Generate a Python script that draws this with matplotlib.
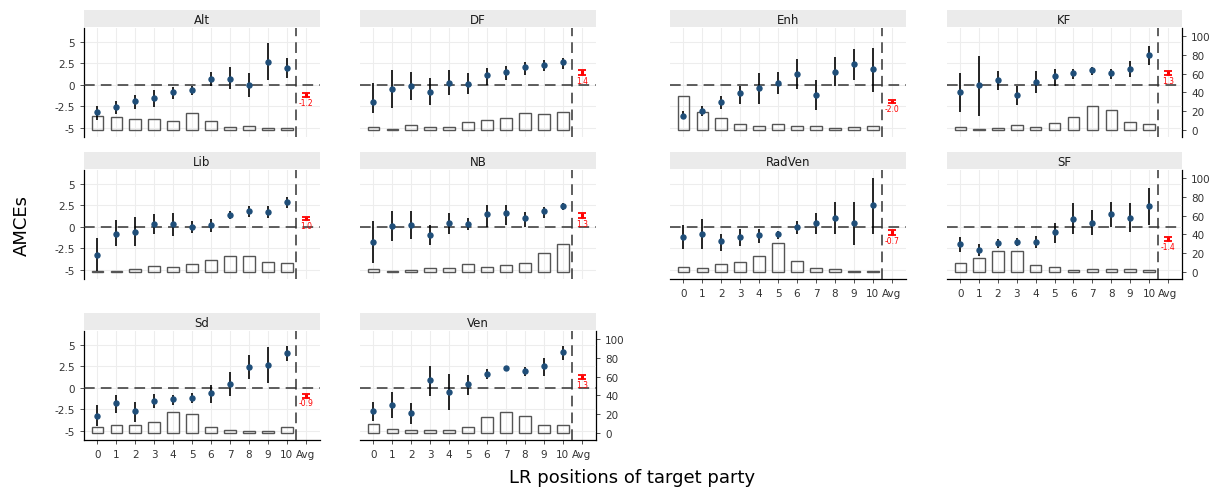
import numpy as np
import matplotlib
matplotlib.use("Agg")
import matplotlib.pyplot as plt

# LR positions 0..10, then the average
positions = list(range(11))
tick_labels = [str(i) for i in positions] + ["Avg"]

# AMCE estimates, CI lower, CI upper, share of respondents (%)
alt_est = [-3.2, -2.65, -1.85, -1.5, -0.85, -0.6, 0.7, 0.7, -0.08, 2.65, 1.95]
alt_lo = [-4.1, -3.4, -2.8, -2.6, -1.65, -1.2, -0.15, -0.55, -1.45, 0.5, 0.8]
alt_hi = [-2.5, -1.95, -1.2, -0.65, -0.3, -0.15, 1.5, 2.0, 1.3, 4.85, 3.05]
alt_pct = [15.2, 13.5, 11.3, 11.7, 9.9, 18.4, 9.2, 3.2, 4.3, 2.1, 1.8]

df_est = [-2.0, -0.45, -0.15, -0.8, 0.25, 0.1, 1.1, 1.5, 2.0, 2.25, 2.65]
df_lo = [-3.3, -2.7, -1.75, -2.4, -1.25, -1.05, 0.0, 0.5, 1.15, 1.55, 1.85]
df_hi = [0.2, 1.7, 1.5, 0.8, 1.7, 1.3, 1.95, 2.2, 2.65, 2.85, 3.15]
df_pct = [3.2, 0.8, 5.3, 3.2, 3.5, 8.2, 10.3, 12.4, 17.7, 17.4, 19.5]

enh_est = [-3.6, -3.1, -2.0, -0.95, -0.4, 0.25, 1.2, -1.25, 1.5, 2.4, 1.8]
enh_lo = [-4.05, -3.65, -2.8, -2.2, -2.2, -1.05, -0.55, -2.9, -0.15, 0.5, -0.8]
enh_hi = [-3.1, -2.5, -1.3, -0.15, 1.3, 1.5, 2.95, 0.5, 3.25, 4.1, 4.3]
enh_pct = [36.0, 19.5, 12.4, 6.0, 4.3, 6.7, 4.6, 3.9, 2.5, 2.8, 4.3]

kf_est = [-0.9, -0.08, 0.55, -1.25, 0.3, 1.0, 1.3, 1.65, 1.3, 1.85, 3.4]
kf_lo = [-3.2, -3.6, -0.65, -2.35, -0.95, -0.15, 0.7, 1.15, 0.7, 0.9, 2.25]
kf_hi = [1.4, 3.35, 1.6, -0.15, 1.55, 1.8, 1.85, 2.05, 1.8, 2.7, 4.5]
kf_pct = [2.8, 0.7, 2.5, 5.7, 3.5, 7.1, 13.8, 25.2, 20.9, 8.5, 6.4]

lib_est = [-3.35, -0.8, -0.6, 0.3, 0.27, 0.0, 0.15, 1.35, 1.8, 1.75, 2.85]
lib_lo = [-5.2, -2.25, -2.3, -0.9, -1.1, -0.7, -0.6, 0.85, 1.15, 0.95, 2.2]
lib_hi = [-1.35, 0.8, 1.15, 1.45, 1.6, 0.65, 0.85, 1.8, 2.4, 2.4, 3.5]
lib_pct = [1.1, 1.4, 3.5, 6.4, 5.7, 8.9, 12.8, 17.4, 16.7, 11.0, 9.6]

nb_est = [-1.8, 0.08, 0.25, -0.95, 0.45, 0.27, 1.5, 1.6, 0.95, 1.8, 2.4]
nb_lo = [-4.2, -1.65, -1.4, -2.15, -0.9, -0.4, 0.0, 0.15, 0.0, 1.05, 1.95]
nb_hi = [0.65, 1.8, 1.8, 0.15, 1.6, 0.95, 2.5, 2.5, 1.7, 2.3, 2.7]
nb_pct = [2.8, 1.4, 2.5, 3.9, 4.3, 8.9, 5.7, 7.4, 9.9, 20.6, 29.8]

radven_est = [-1.15, -0.8, -1.65, -1.15, -0.95, -0.9, -0.05, 0.4, 1.05, 0.4, 2.5]
radven_lo = [-2.55, -2.55, -2.8, -2.25, -1.85, -1.4, -0.8, -0.8, -0.8, -2.15, -0.8]
radven_hi = [0.25, 0.85, -0.8, -0.3, -0.3, -0.5, 0.65, 1.55, 2.85, 2.85, 5.7]
radven_pct = [5.7, 3.9, 8.5, 10.3, 17.0, 30.5, 11.7, 3.9, 2.8, 1.1, 1.1]

sf_est = [-2.05, -2.75, -1.95, -1.8, -1.75, -0.6, 0.85, 0.45, 1.45, 1.05, 2.4]
sf_lo = [-3.0, -3.4, -2.45, -2.3, -2.45, -1.85, -0.9, -1.0, 0.0, -0.6, 0.25]
sf_hi = [-1.15, -2.05, -1.45, -1.35, -1.1, 0.45, 2.7, 1.9, 2.85, 2.8, 4.45]
sf_pct = [10.0, 14.6, 22.8, 22.0, 7.8, 5.0, 2.1, 3.2, 3.6, 3.2, 2.5]

sd_est = [-3.25, -1.8, -2.75, -1.5, -1.35, -1.15, -0.65, 0.45, 2.45, 2.65, 4.05]
sd_lo = [-4.5, -2.95, -4.0, -2.35, -2.0, -1.8, -1.8, -0.95, 1.0, 0.55, 3.05]
sd_hi = [-2.0, -0.8, -1.7, -0.75, -0.8, -0.6, 0.35, 1.8, 3.85, 4.7, 4.9]
sd_pct = [6.7, 8.9, 8.2, 11.4, 22.0, 19.9, 6.4, 3.5, 2.5, 2.1, 6.4]

ven_est = [-2.75, -2.05, -2.95, 0.85, -0.5, 0.45, 1.55, 2.3, 1.9, 2.5, 4.1]
ven_lo = [-3.9, -3.55, -4.2, -1.0, -2.65, -0.8, 0.95, 2.0, 1.3, 1.3, 3.2]
ven_hi = [-1.7, -0.55, -1.8, 2.55, 1.6, 1.5, 2.15, 2.55, 2.4, 3.45, 4.9]
ven_pct = [9.2, 4.6, 2.8, 2.8, 3.2, 6.0, 17.0, 22.7, 18.1, 8.2, 8.2]

# average AMCE per party
parties = ["Alt", "DF", "Enh", "KF", "Lib", "NB", "RadVen", "SF", "Sd", "Ven"]
avg_est = [-1.2, 1.4, -2.0, 1.3, 1.0, 1.3, -0.7, -1.4, -0.9, 1.3]
avg_lo = [-1.45, 1.15, -2.15, 1.1, 0.8, 1.0, -1.0, -1.65, -1.15, 1.0]
avg_hi = [-0.95, 1.65, -1.8, 1.55, 1.15, 1.55, -0.4, -1.15, -0.7, 1.5]

panel_data = {
    "Alt": (alt_est, alt_lo, alt_hi, alt_pct),
    "DF": (df_est, df_lo, df_hi, df_pct),
    "Enh": (enh_est, enh_lo, enh_hi, enh_pct),
    "KF": (kf_est, kf_lo, kf_hi, kf_pct),
    "Lib": (lib_est, lib_lo, lib_hi, lib_pct),
    "NB": (nb_est, nb_lo, nb_hi, nb_pct),
    "RadVen": (radven_est, radven_lo, radven_hi, radven_pct),
    "SF": (sf_est, sf_lo, sf_hi, sf_pct),
    "Sd": (sd_est, sd_lo, sd_hi, sd_pct),
    "Ven": (ven_est, ven_lo, ven_hi, ven_pct),
}

# secondary axis (share in %) maps onto the AMCE scale
base = -5.29
k = 9.12
def to_pct(y):
    return (y - base) * k
def to_amce(p):
    return p / k + base

W, H = 1211, 489
fig = plt.figure(figsize=(W / 100, H / 100), dpi=100)

cols = [(84, 320), (360, 596), (670, 906), (947, 1182)]
rows = [(29, 138), (171, 280), (332, 441)]

# name: (row, col, left axis, right axis, bottom ticks)
layout = {
    "Alt": (0, 0, True, False, False),
    "DF": (0, 1, False, False, False),
    "Lib": (1, 0, True, False, False),
    "NB": (1, 1, False, False, False),
    "Sd": (2, 0, True, False, True),
    "Ven": (2, 1, False, True, True),
    "Enh": (0, 2, False, False, False),
    "KF": (0, 3, False, True, False),
    "RadVen": (1, 2, False, False, True),
    "SF": (1, 3, False, True, True),
}

grid_c = "#ededed"
txt_c = "#333333"

for name, (r, c, left, right, bottom) in layout.items():
    x0, x1 = cols[c]
    y0, y1 = rows[r]
    ax = fig.add_axes([x0 / W, 1 - y1 / H, (x1 - x0) / W, (y1 - y0) / H])
    est, lo, hi, pct = panel_data[name]

    ax.set_xlim(-0.7, 11.75)
    ax.set_ylim(-6.1, 6.6)
    ax.set_xticks(range(12))
    ax.set_yticks([-5, -2.5, 0, 2.5, 5])
    ax.set_yticklabels(["-5", "-2.5", "0", "2.5", "5"])
    ax.grid(True, color=grid_c, lw=0.8)
    ax.set_axisbelow(True)
    for s in ax.spines.values():
        s.set_visible(False)

    # histogram of respondent self-placement
    heights = [p / k for p in pct]
    ax.bar(positions, heights, bottom=base, width=0.6, facecolor="none",
           edgecolor="#555555", lw=1.0, zorder=2)

    ax.axhline(0, color="#333333", lw=1.1, ls=(0, (7, 4)), zorder=3)
    ax.axvline(10.5, color="#333333", lw=1.1, ls=(0, (7, 4)), zorder=3)

    ax.vlines(positions, lo, hi, color="black", lw=1.2, zorder=4)
    ax.plot(positions, est, "o", color="#1f4e79", ms=3.6, zorder=5)

    i = parties.index(name)
    ax.errorbar([11], [avg_est[i]],
                yerr=[[avg_est[i] - avg_lo[i]], [avg_hi[i] - avg_est[i]]],
                fmt="none", ecolor="red", elinewidth=2.2, capsize=3, capthick=1.3,
                zorder=5)
    ax.text(11, avg_lo[i] - 0.1, "%.1f" % avg_est[i], color="red", fontsize=5.5,
            ha="center", va="top")

    ax.tick_params(axis="both", labelsize=7.5, colors=txt_c, length=3, width=0.6)
    if left:
        ax.spines["left"].set_visible(True)
        ax.spines["left"].set_linewidth(0.9)
    else:
        ax.tick_params(axis="y", left=False, labelleft=False)
    if bottom:
        ax.spines["bottom"].set_visible(True)
        ax.spines["bottom"].set_linewidth(0.9)
        ax.set_xticklabels(tick_labels)
    else:
        ax.tick_params(axis="x", bottom=False, labelbottom=False)
    if right:
        sec = ax.secondary_yaxis("right", functions=(to_pct, to_amce))
        sec.set_yticks([0, 20, 40, 60, 80, 100])
        sec.tick_params(labelsize=7.5, colors=txt_c, length=3, width=0.6)
        sec.spines["right"].set_linewidth(0.9)

    # facet strip
    sax = fig.add_axes([x0 / W, 1 - (y0 - 1) / H, (x1 - x0) / W, 17 / H])
    sax.set_facecolor("#ebebeb")
    sax.set_xticks([])
    sax.set_yticks([])
    for s in sax.spines.values():
        s.set_visible(False)
    sax.text(0.5, 0.45, name, ha="center", va="center", fontsize=8.5,
             color="#1a1a1a", transform=sax.transAxes)

fig.text(632 / W, 1 - 478 / H, "LR positions of target party", ha="center",
         va="center", fontsize=13)
fig.text(22 / W, 1 - 225 / H, "AMCEs", ha="center", va="center", fontsize=13,
         rotation=90)

fig.savefig("out.png", dpi=100, facecolor="white")
